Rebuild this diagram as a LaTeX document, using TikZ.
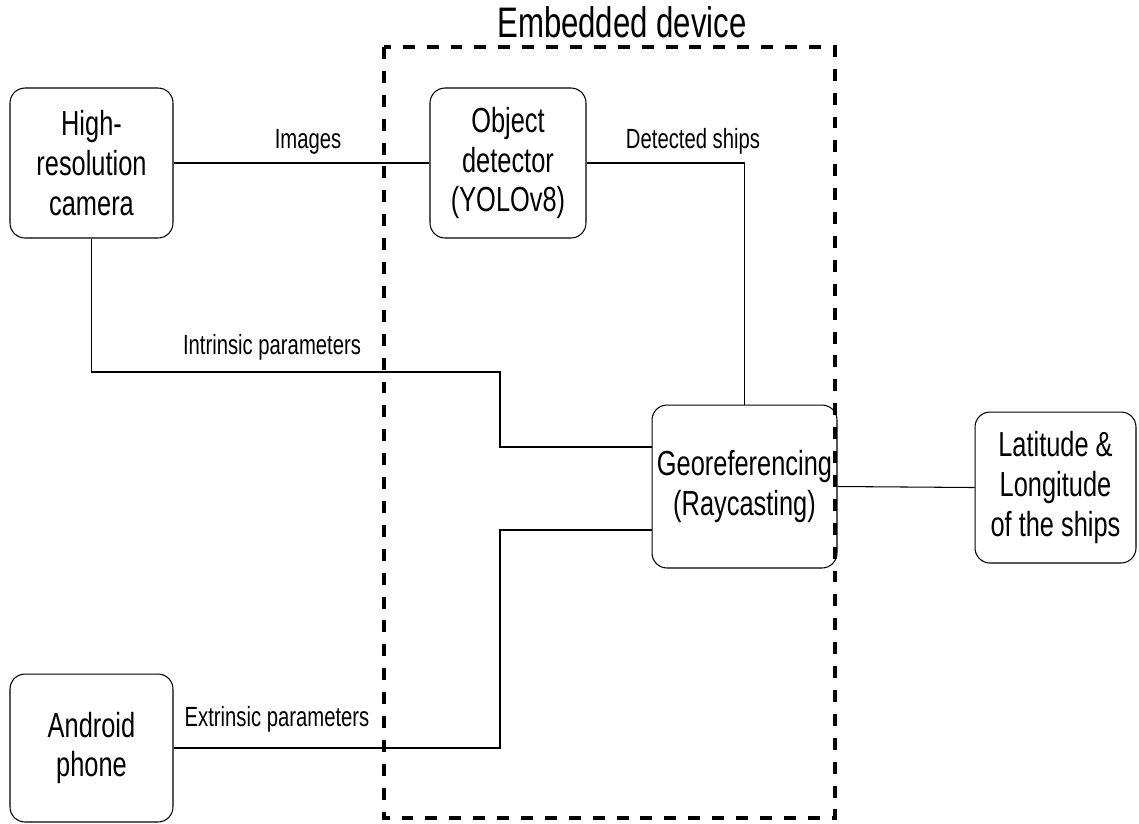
\documentclass[tikz,border=0pt]{standalone}
\usepackage{fontspec}
\setmainfont[FakeStretch=0.73]{Liberation Sans}
\tikzset{
	block/.style={draw, rounded corners=0.3cm, align=center, inner sep=2pt, line width=0.6pt, font=\fontsize{19.8}{22.7}\selectfont},
	lbl/.style={font=\fontsize{15.8}{18}\selectfont},
	wire/.style={line width=0.6pt},
	frame/.style={line width=2.2pt, dash pattern=on 6.8pt off 6.8pt},
}
\begin{document}
\begin{tikzpicture}[x=0.02cm, y=-0.02cm]
	\useasboundingbox (0,0) rectangle (1139,823);
	% embedded device
	\draw[frame] (384,47) rectangle (835,818);
	\node (dev) [font=\fontsize{24.3}{28}\selectfont] at (622,22) {Embedded device};

	\node (cam) [block, minimum width=3.26cm, minimum height=3cm] at (91.5,163) {High-\\resolution\\camera};
	\node (det) [block, minimum width=3.12cm, minimum height=3cm] at (508,163) {Object\\detector\\(YOLOv8)};
	\node (geo) [block, minimum width=3.7cm, minimum height=3.26cm] at (744.5,486.5) {Georeferencing\\(Raycasting)};
	\node (lat) [block, minimum width=3.22cm, minimum height=3.02cm] at (1055.5,487.5) {Latitude \&\\Longitude\\of the ships};
	\node (phone) [block, minimum width=3.26cm, minimum height=2.96cm] at (91.5,748) {Android\\phone};

	\draw[wire] (cam.east) -- (det.west);
	\draw[wire] (det.east) -| (geo.north);
	\draw[wire] (cam.south) |- (500,372) |- ([yshift=0.79cm]geo.west);
	\draw[wire] (phone.east) -- (500,748) |- ([yshift=-0.87cm]geo.west);
	\draw[wire] (geo.east) -- (lat.west);

	% labels
	\node (img) [lbl] at (308,142) {Images};
	\node (ships) [lbl] at (693,141) {Detected ships};
	\node (intr) [lbl] at (272,347) {Intrinsic parameters};
	\node (extr) [lbl] at (277,719) {Extrinsic parameters};
\end{tikzpicture}
\end{document}
